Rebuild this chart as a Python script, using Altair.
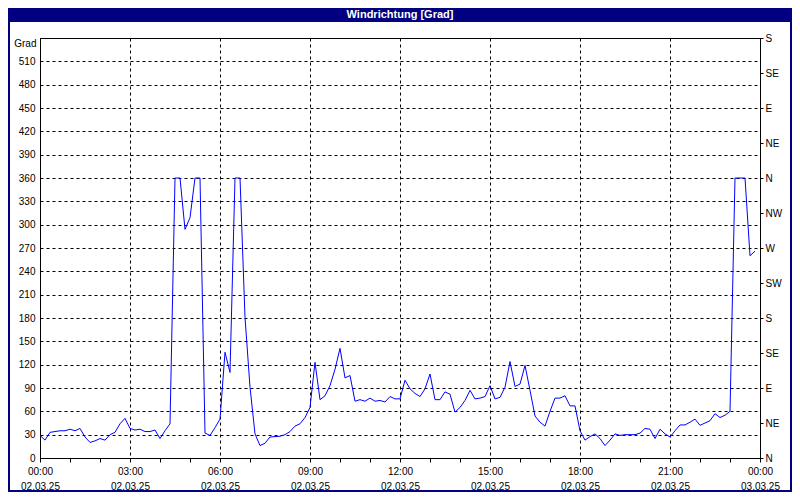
import altair as alt
import pandas as pd

# ---- data ----
minutes = list(range(0, 1440, 10))  # 10-minute samples, 02.03.25 00:00 .. 23:50
direction = [
    29, 23, 33, 34, 35, 35, 37, 35, 38, 27,
    20, 22, 25, 23, 30, 33, 44, 51, 38, 36,
    37, 34, 34, 36, 25, 35, 44, 360, 360, 294,
    309, 360, 360, 32, 29, 39, 50, 136, 110, 360,
    360, 181, 91, 31, 16, 19, 27, 27.5, 28, 30,
    34, 41, 44, 52, 65, 123, 75, 80, 93, 114,
    141, 103, 106, 73, 75, 73, 77, 73, 74, 72,
    79, 76, 76, 100, 89, 83, 79, 89, 108, 75,
    75, 85, 82, 59, 65, 74, 87, 76, 77, 79,
    93, 76, 78, 91, 124, 92, 95, 119, 87, 54,
    46, 41, 60, 77, 77, 80, 67, 67, 35, 23,
    27.5, 31, 25, 16, 23, 31, 29, 30, 30, 30,
    32, 38, 37, 25, 37, 31, 27, 35, 42.5, 42.5,
    46, 50, 42, 45, 48, 57, 52, 55, 60, 360,
    360, 360, 260, 266,
]

tick_times = ["00:00", "03:00", "06:00", "09:00", "12:00", "15:00", "18:00", "21:00", "00:00"]
tick_dates = ["02.03.25"] * 8 + ["03.03.25"]
left_ticks = list(range(0, 511, 30))
compass_degrees = [0, 45, 90, 135, 180, 225, 270, 315, 360, 405, 450, 495, 540]
compass_labels = ["N", "NE", "E", "SE", "S", "SW", "W", "NW", "N", "NE", "E", "SE", "S"]
title_text = "Windrichtung [Grad]"
y_title = "Grad"

df = pd.DataFrame({"hour": [m / 60 for m in minutes], "deg": direction})
compass_df = pd.DataFrame({"deg": compass_degrees, "lab": compass_labels})
deco_df = pd.DataFrame({"k": [0]})

FONT = "Liberation Sans"
NAVY = "#000080"

W, H = 720, 420
PAD_L, PAD_T, PAD_R, PAD_B = 32, 30, 32, 34  # total 784 x 484


def js_list(items):
    return "[" + ",".join("'" + str(s) + "'" for s in items) + "]"


x_label_expr = (
    "datum.value % 3 == 0 ? ["
    + js_list(tick_times) + "[datum.value / 3], "
    + js_list(tick_dates) + "[datum.value / 3]] : ''"
)
compass_expr = (
    js_list(compass_labels) + "[indexof(" + str(compass_degrees) + ", datum.value)]"
)

y_scale = alt.Scale(domain=[0, 540], nice=False, zero=True)

x_enc = alt.X(
    "hour:Q",
    scale=alt.Scale(domain=[0, 24], nice=False, zero=False),
    axis=alt.Axis(
        values=list(range(25)),
        labelExpr=x_label_expr,
        labelOverlap=False,
        labelFlush=False,
        grid=True,
        gridDash=[3, 3],
        gridColor="black",
        gridOpacity={"condition": {"test": "datum.value % 3 == 0", "value": 1}, "value": 0},
        tickSize=4,
        tickColor="black",
        domainColor="black",
        labelPadding=4,
        labelLineHeight=15,
        labelFont=FONT,
        labelFontSize=10,
        labelColor="black",
        title=None,
    ),
)

left_axis = alt.Axis(
    values=left_ticks,
    grid=True,
    gridDash=[3, 3],
    gridColor="black",
    tickSize=0,
    labelPadding=5,
    labelFont=FONT,
    labelFontSize=10,
    labelColor="black",
    domainColor="black",
    title=y_title,
    titleAngle=0,
    titleX=-4,
    titleY=5,
    titleAlign="right",
    titleBaseline="middle",
    titleFont=FONT,
    titleFontSize=10,
    titleFontWeight="normal",
    titleColor="black",
)

right_axis = alt.Axis(
    orient="right",
    values=compass_degrees,
    labelExpr=compass_expr,
    grid=False,
    tickSize=3,
    tickColor="black",
    labelPadding=2,
    labelFont=FONT,
    labelFontSize=10,
    labelColor="black",
    domainColor="black",
    title=None,
)

bar = alt.Chart(deco_df).mark_rect(color=NAVY).encode(
    x=alt.value(-PAD_L), x2=alt.value(W + PAD_R),
    y=alt.value(-PAD_T), y2=alt.value(-PAD_T + 14),
)
border = alt.Chart(deco_df).mark_rect(
    fillOpacity=0, stroke=NAVY, strokeWidth=2
).encode(
    x=alt.value(-PAD_L + 1), x2=alt.value(W + PAD_R - 1),
    y=alt.value(-PAD_T + 1), y2=alt.value(H + PAD_B - 1),
)
title = alt.Chart(deco_df).mark_text(
    text=title_text, color="white", font=FONT, fontSize=11, fontWeight="bold",
    align="center", baseline="middle",
).encode(x=alt.value(360), y=alt.value(-PAD_T + 7))

line = alt.Chart(df).mark_line(color="#0000FF", strokeWidth=1, clip=True).encode(
    x=x_enc,
    y=alt.Y("deg:Q", scale=y_scale, axis=left_axis),
)

right = alt.Chart(compass_df).mark_point(opacity=0).encode(
    y=alt.Y("deg:Q", scale=y_scale, axis=right_axis),
)

chart = (
    alt.layer(line, right, bar, border, title)
    .resolve_axis(y="independent")
    .properties(
        width=W,
        height=H,
        autosize=alt.AutoSizeParams(type="none"),
        padding={"left": PAD_L, "top": PAD_T, "right": PAD_R, "bottom": PAD_B},
        background="white",
    )
    .configure_view(stroke="black", strokeWidth=1)
)

chart.save("out.html", embed_options={"renderer": "svg", "actions": False})
